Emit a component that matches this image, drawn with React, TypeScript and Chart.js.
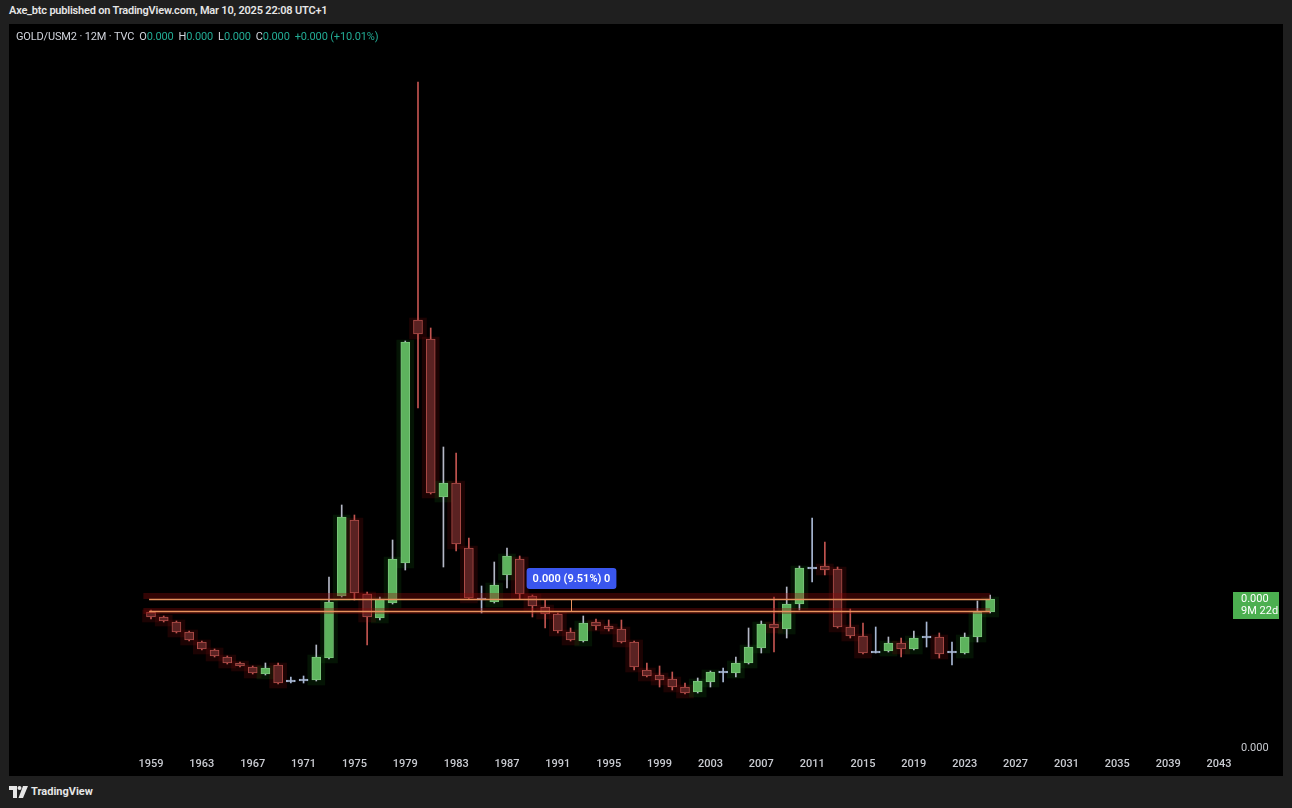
import React, { useEffect, useRef } from "react";
import { Chart, registerables } from "chart.js";

Chart.register(...registerables);

// ---- Data (yearly candles, GOLD/USM2 ratio, relative units) ----
const years = [
  1959, 1960, 1961, 1962, 1963, 1964, 1965, 1966, 1967, 1968,
  1969, 1970, 1971, 1972, 1973, 1974, 1975, 1976, 1977, 1978,
  1979, 1980, 1981, 1982, 1983, 1984, 1985, 1986, 1987, 1988,
  1989, 1990, 1991, 1992, 1993, 1994, 1995, 1996, 1997, 1998,
  1999, 2000, 2001, 2002, 2003, 2004, 2005, 2006, 2007, 2008,
  2009, 2010, 2011, 2012, 2013, 2014, 2015, 2016, 2017, 2018,
  2019, 2020, 2021, 2022, 2023, 2024, 2025,
];

const opens = [
  0.136, 0.131, 0.126, 0.116, 0.106, 0.098, 0.091, 0.085, 0.081, 0.074,
  0.083, 0.066, 0.067, 0.068, 0.090, 0.152, 0.228, 0.154, 0.130, 0.145,
  0.185, 0.428, 0.409, 0.251, 0.265, 0.200, 0.148, 0.146, 0.173, 0.189,
  0.152, 0.141, 0.134, 0.116, 0.107, 0.126, 0.122, 0.119, 0.106, 0.078,
  0.073, 0.069, 0.061, 0.056, 0.066, 0.075, 0.075, 0.085, 0.100, 0.124,
  0.119, 0.144, 0.179, 0.182, 0.179, 0.121, 0.112, 0.095, 0.097, 0.105,
  0.099, 0.110, 0.111, 0.095, 0.095, 0.111, 0.136,
];

const highs = [
  0.138, 0.132, 0.127, 0.117, 0.107, 0.099, 0.092, 0.086, 0.082, 0.085,
  0.085, 0.071, 0.072, 0.103, 0.171, 0.243, 0.233, 0.156, 0.151, 0.208,
  0.407, 0.666, 0.420, 0.301, 0.295, 0.210, 0.162, 0.186, 0.200, 0.192,
  0.153, 0.148, 0.135, 0.120, 0.132, 0.129, 0.128, 0.128, 0.107, 0.085,
  0.082, 0.076, 0.065, 0.070, 0.077, 0.080, 0.091, 0.120, 0.127, 0.151,
  0.161, 0.182, 0.230, 0.206, 0.181, 0.139, 0.125, 0.121, 0.111, 0.110,
  0.117, 0.126, 0.115, 0.106, 0.115, 0.147, 0.153,
];

const lows = [
  0.129, 0.126, 0.115, 0.107, 0.098, 0.091, 0.084, 0.081, 0.074, 0.073,
  0.064, 0.065, 0.065, 0.067, 0.089, 0.151, 0.148, 0.103, 0.128, 0.144,
  0.178, 0.340, 0.254, 0.181, 0.197, 0.149, 0.135, 0.145, 0.160, 0.149,
  0.131, 0.120, 0.115, 0.107, 0.106, 0.118, 0.117, 0.105, 0.078, 0.071,
  0.061, 0.058, 0.054, 0.055, 0.061, 0.066, 0.071, 0.084, 0.095, 0.096,
  0.110, 0.138, 0.166, 0.173, 0.120, 0.110, 0.094, 0.095, 0.096, 0.091,
  0.098, 0.101, 0.090, 0.083, 0.094, 0.106, 0.135,
];

const closes = [
  0.131, 0.127, 0.116, 0.108, 0.099, 0.092, 0.085, 0.082, 0.075, 0.080,
  0.065, 0.067, 0.069, 0.091, 0.146, 0.231, 0.155, 0.131, 0.149, 0.189,
  0.406, 0.414, 0.255, 0.265, 0.204, 0.150, 0.149, 0.163, 0.192, 0.154,
  0.142, 0.134, 0.117, 0.108, 0.125, 0.122, 0.119, 0.106, 0.081, 0.072,
  0.068, 0.061, 0.055, 0.067, 0.076, 0.076, 0.085, 0.101, 0.124, 0.120,
  0.144, 0.180, 0.180, 0.178, 0.121, 0.112, 0.095, 0.097, 0.105, 0.099,
  0.110, 0.111, 0.094, 0.096, 0.111, 0.136, 0.149,
];

const tickYears = [
  1959, 1963, 1967, 1971, 1975, 1979, 1983, 1987, 1991, 1995, 1999,
  2003, 2007, 2011, 2015, 2019, 2023, 2027, 2031, 2035, 2039, 2043,
];
const priceTicks = [0];

// Drawn horizontal levels and shaded bands
const levelLines = [0.149, 0.137];
const levelBands = [
  [0.149, 0.155],
  [0.134, 0.140],
];
const levelStartYear = 1958.85;
const levelEndYear = 2025.0;
const bandStartYear = 1958.4;

// Price range tool
const rangeToolYear = 1992;
const rangeToolLabel = "0.000 (9.51%) 0";

// Last price label
const lastPriceLines = ["0.000", "9M 22d"];

const X_MIN = 1947.832;
const X_MAX = 2043.787;
const Y_MIN = -0.004;
const Y_MAX = 0.724;

const UP = "#5db35d";
const UP_BORDER = "#7cc67c";
const DOWN = "#5a2222";
const DOWN_BORDER = "#b24e4a";
const DOWN_WICK = "#c25450";
const UP_WICK = "#b4b8c6";
const DOJI = "#a8b8d4";

function kind(i: number) {
  const d = closes[i] - opens[i];
  if (Math.abs(d) < 0.0025) return "doji";
  return d > 0 ? "up" : "down";
}

const overlayPlugin = {
  id: "overlays",
  afterDatasetsDraw(chart: any) {
    const { ctx, chartArea } = chart;
    const x = chart.scales.x;
    const y = chart.scales.y;
    ctx.save();
    // bands
    ctx.fillStyle = "rgba(140,12,12,0.36)";
    levelBands.forEach(([lo, hi]) => {
      const x0 = x.getPixelForValue(bandStartYear);
      const x1 = x.getPixelForValue(levelEndYear);
      const y0 = y.getPixelForValue(hi);
      const y1 = y.getPixelForValue(lo);
      ctx.fillRect(x0, y0, x1 - x0, y1 - y0);
    });
    // lines
    ctx.strokeStyle = "#e8935e";
    ctx.lineWidth = 1.5;
    levelLines.forEach((v) => {
      const py = Math.round(y.getPixelForValue(v)) + 0.5;
      ctx.beginPath();
      ctx.moveTo(x.getPixelForValue(levelStartYear), py);
      ctx.lineTo(x.getPixelForValue(levelEndYear), py);
      ctx.stroke();
    });
    // range tool vertical
    const rx = Math.round(x.getPixelForValue(rangeToolYear)) + 0.5;
    const ry0 = y.getPixelForValue(levelLines[0]);
    const ry1 = y.getPixelForValue(levelLines[1]);
    ctx.lineWidth = 1;
    ctx.beginPath();
    ctx.moveTo(rx, ry0);
    ctx.lineTo(rx, ry1);
    ctx.stroke();
    // range tool label
    ctx.font = "600 11px Roboto, 'Open Sans', sans-serif";
    const tw = ctx.measureText(rangeToolLabel).width;
    const bw = tw + 12;
    const bh = 21;
    const bx = rx - bw / 2;
    const by = ry0 - 10 - bh;
    ctx.fillStyle = "#3a56ee";
    ctx.beginPath();
    (ctx as any).roundRect(bx, by, bw, bh, 3);
    ctx.fill();
    ctx.fillStyle = "#ffffff";
    ctx.textAlign = "center";
    ctx.textBaseline = "middle";
    ctx.fillText(rangeToolLabel, rx, by + bh / 2 + 0.5);

    // last price label on the price axis
    const lastY = y.getPixelForValue(closes[closes.length - 1]);
    const lx = chartArea.right + 4;
    ctx.fillStyle = "#4caf50";
    ctx.fillRect(lx, lastY - 7, 46, 27);
    ctx.fillStyle = "#ffffff";
    ctx.textAlign = "left";
    ctx.font = "11px Roboto, 'Open Sans', sans-serif";
    ctx.fillText(lastPriceLines[0], lx + 8, lastY + 0.5);
    ctx.fillText(lastPriceLines[1], lx + 8, lastY + 12.5);
    ctx.restore();
  },
};

function CandleChart() {
  const ref = useRef<HTMLCanvasElement | null>(null);
  useEffect(() => {
    if (!ref.current) return;
    const kinds = years.map((_, i) => kind(i));
    const bodyData = years.map((yr, i) => ({
      x: yr,
      y: [Math.min(opens[i], closes[i]), Math.max(opens[i], closes[i])],
    }));
    const wickData = years.map((yr, i) => ({ x: yr, y: [lows[i], highs[i]] }));
    const shadeData = years.map((yr, i) => ({
      x: yr,
      y: [Math.min(opens[i], closes[i]) - 0.005, Math.max(opens[i], closes[i]) + 0.002],
    }));
    const chart = new Chart(ref.current, {
      type: "bar",
      data: {
        datasets: [
          {
            label: "shade",
            data: shadeData as any,
            backgroundColor: kinds.map((k) =>
              k === "down" ? "rgba(110,10,10,0.26)" : k === "up" ? "rgba(20,90,20,0.22)" : "rgba(0,0,0,0)"
            ),
            barThickness: 17,
            grouped: false,
            order: 3,
          } as any,
          {
            label: "wick",
            data: wickData as any,
            backgroundColor: kinds.map((k) => (k === "down" ? DOWN_WICK : k === "up" ? UP_WICK : DOJI)),
            barThickness: 1,
            grouped: false,
            order: 2,
          } as any,
          {
            label: "body",
            data: bodyData as any,
            backgroundColor: kinds.map((k) => (k === "down" ? DOWN : k === "up" ? UP : DOJI)),
            borderColor: kinds.map((k) => (k === "down" ? DOWN_BORDER : k === "up" ? UP_BORDER : DOJI)),
            borderWidth: 1,
            borderSkipped: false,
            barThickness: 9,
            minBarLength: 2,
            grouped: false,
            order: 1,
          } as any,
        ],
      },
      options: {
        responsive: false,
        animation: false,
        devicePixelRatio: 1,
        layout: { padding: { top: 0, left: 0, right: 0, bottom: 0 }, autoPadding: false },
        plugins: {
          legend: { display: false },
          title: { display: false },
          tooltip: { enabled: false },
        },
        scales: {
          x: {
            type: "linear",
            min: X_MIN,
            max: X_MAX,
            offset: false,
            grid: { display: false, drawTicks: false },
            border: { display: false },
            afterBuildTicks: (s: any) => {
              s.ticks = tickYears.map((v) => ({ value: v }));
            },
            afterFit: (s: any) => {
              s.height = 24;
              s.paddingLeft = 0;
              s.paddingRight = 0;
              s.paddingTop = 0;
              s.paddingBottom = 0;
            },
            ticks: {
              autoSkip: false,
              maxRotation: 0,
              padding: 6,
              color: "#c9cbd1",
              font: { family: "Roboto, 'Open Sans', sans-serif", size: 11, weight: "500" },
              callback: (v: any) => String(v),
            },
          },
          y: {
            type: "linear",
            position: "right",
            min: Y_MIN,
            max: Y_MAX,
            grid: { display: false, drawTicks: false },
            border: { display: false },
            afterBuildTicks: (s: any) => {
              s.ticks = priceTicks.map((v) => ({ value: v }));
            },
            afterFit: (s: any) => {
              s.width = 54;
              s.paddingTop = 0;
              s.paddingBottom = 0;
              s.paddingLeft = 0;
              s.paddingRight = 0;
            },
            ticks: {
              padding: 12,
              color: "#c9cbd1",
              font: { family: "Roboto, 'Open Sans', sans-serif", size: 11 },
              callback: (v: any) => Number(v).toFixed(3),
            },
          },
        },
      } as any,
      plugins: [overlayPlugin],
    });
    return () => chart.destroy();
  }, []);
  return <canvas ref={ref} width={1274} height={752} style={{ width: 1274, height: 752, display: "block" }} />;
}

const FONT = "Roboto, 'Open Sans', sans-serif";

export default function App() {
  const teal = "#22ab94";
  const label = "#d1d4dc";
  return (
    <div
      style={{
        position: "fixed",
        left: 0,
        top: 0,
        width: 1292,
        height: 808,
        background: "#1f1f1f",
        fontFamily: FONT,
        overflow: "hidden",
      }}
    >
      <div
        style={{
          position: "absolute",
          left: 9,
          top: 4,
          fontSize: 11,
          fontWeight: 600,
          letterSpacing: -0.2,
          color: "#e6e6e6",
          whiteSpace: "nowrap",
        }}
      >
        Axe_btc published on TradingView.com, Mar 10, 2025 22:08 UTC+1
      </div>
      <div
        style={{
          position: "absolute",
          left: 9,
          top: 24,
          width: 1274,
          height: 752,
          background: "#000000",
        }}
      >
        <CandleChart />
        <div
          style={{
            position: "absolute",
            left: 7,
            top: 6,
            fontSize: 11,
            letterSpacing: -0.15,
            color: label,
            whiteSpace: "nowrap",
          }}
        >
          <span>GOLD/USM2 · 12M · TVC</span>
          <span style={{ marginLeft: 5 }}>O</span>
          <span style={{ color: teal }}>0.000</span>
          <span style={{ marginLeft: 5 }}>H</span>
          <span style={{ color: teal }}>0.000</span>
          <span style={{ marginLeft: 5 }}>L</span>
          <span style={{ color: teal }}>0.000</span>
          <span style={{ marginLeft: 5 }}>C</span>
          <span style={{ color: teal }}>0.000</span>
          <span style={{ color: teal, marginLeft: 5 }}>+0.000 (+10.01%)</span>
        </div>
      </div>
      <div
        style={{
          position: "absolute",
          left: 9,
          top: 785,
          display: "flex",
          alignItems: "center",
          gap: 3,
          color: "#e6e6e6",
          fontSize: 11,
          fontWeight: 700,
        }}
      >
        <svg width="19" height="12" viewBox="0 0 19 12">
          <path d="M0 0 H8 V12 H4 V4 H0 Z" fill="#e6e6e6" />
          <circle cx="10.5" cy="2" r="2" fill="#e6e6e6" />
          <path d="M14 0 H19 L14 12 H9.5 Z" fill="#e6e6e6" />
        </svg>
        <span>TradingView</span>
      </div>
    </div>
  );
}
